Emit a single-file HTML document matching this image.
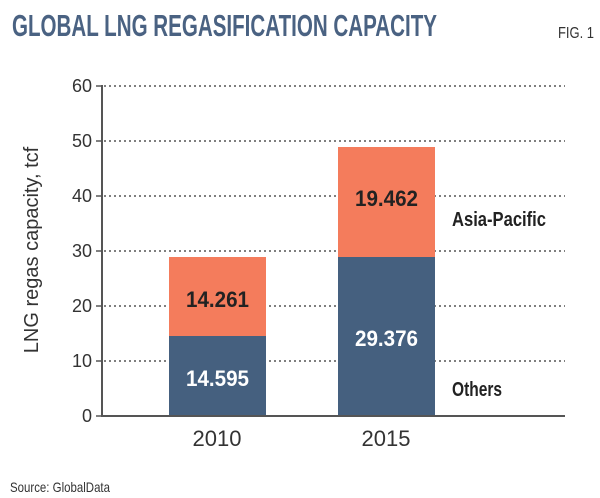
<!DOCTYPE html>
<html><head><meta charset="utf-8"><style>
html,body{margin:0;padding:0;background:#fff;}
svg{display:block;}
</style></head><body>
<svg width="600" height="498" viewBox="0 0 600 498" xmlns="http://www.w3.org/2000/svg">
<rect width="600" height="498" fill="#fff"/>
<text x="12" y="36" font-family="Liberation Sans, sans-serif" font-weight="bold" font-size="31" fill="#4a6282" textLength="425" lengthAdjust="spacingAndGlyphs">GLOBAL LNG REGASIFICATION CAPACITY</text>
<text x="558" y="38" font-family="Liberation Sans, sans-serif" font-size="16" fill="#333" textLength="36" lengthAdjust="spacingAndGlyphs">FIG. 1</text>
<g stroke="#333" stroke-width="1.2" stroke-dasharray="2,3">
<line x1="104" y1="86" x2="565" y2="86"/>
<line x1="104" y1="141" x2="565" y2="141"/>
<line x1="104" y1="196" x2="565" y2="196"/>
<line x1="104" y1="251" x2="565" y2="251"/>
<line x1="104" y1="306" x2="565" y2="306"/>
<line x1="104" y1="361" x2="565" y2="361"/>
</g>
<rect x="169" y="257" width="97" height="79" fill="#f47c5c"/>
<rect x="169" y="336" width="97" height="80" fill="#45607f"/>
<rect x="338" y="147" width="97" height="110" fill="#f47c5c"/>
<rect x="338" y="257" width="97" height="159" fill="#45607f"/>
<g stroke="#555" stroke-width="2">
<line x1="102" y1="85" x2="102" y2="417"/>
<line x1="101" y1="416" x2="565" y2="416"/>
</g>
<g stroke="#555" stroke-width="1.5">
<line x1="96" y1="86" x2="102" y2="86"/><line x1="96" y1="141" x2="102" y2="141"/>
<line x1="96" y1="196" x2="102" y2="196"/><line x1="96" y1="251" x2="102" y2="251"/>
<line x1="96" y1="306" x2="102" y2="306"/><line x1="96" y1="361" x2="102" y2="361"/>
<line x1="96" y1="416" x2="102" y2="416"/>
</g>
<g font-family="Liberation Sans, sans-serif" font-size="18" fill="#333" text-anchor="end">
<text x="92" y="92">60</text><text x="92" y="147">50</text><text x="92" y="202">40</text>
<text x="92" y="257">30</text><text x="92" y="312">20</text><text x="92" y="367">10</text>
<text x="92" y="422">0</text>
</g>
<text transform="translate(38,250) rotate(-90)" text-anchor="middle" font-family="Liberation Sans, sans-serif" font-size="20" fill="#333">LNG regas capacity, tcf</text>
<g font-family="Liberation Sans, sans-serif" font-size="22" fill="#333" text-anchor="middle">
<text x="217" y="446">2010</text><text x="386" y="446">2015</text>
</g>
<g font-family="Liberation Sans, sans-serif" font-weight="bold" font-size="22" lengthAdjust="spacingAndGlyphs">
<text x="186" y="307" fill="#222" textLength="63" lengthAdjust="spacingAndGlyphs">14.261</text>
<text x="186" y="386" fill="#fff" textLength="63" lengthAdjust="spacingAndGlyphs">14.595</text>
<text x="355" y="206" fill="#222" textLength="63" lengthAdjust="spacingAndGlyphs">19.462</text>
<text x="355" y="346" fill="#fff" textLength="63" lengthAdjust="spacingAndGlyphs">29.376</text>
</g>
<g font-family="Liberation Sans, sans-serif" font-weight="bold" font-size="20" fill="#222">
<text x="452" y="226" textLength="94" lengthAdjust="spacingAndGlyphs">Asia-Pacific</text>
<text x="452" y="396" textLength="50" lengthAdjust="spacingAndGlyphs">Others</text>
</g>
<text x="10" y="492" font-family="Liberation Sans, sans-serif" font-size="14" fill="#333" textLength="100" lengthAdjust="spacingAndGlyphs">Source: GlobalData</text>
</svg>
</body></html>
